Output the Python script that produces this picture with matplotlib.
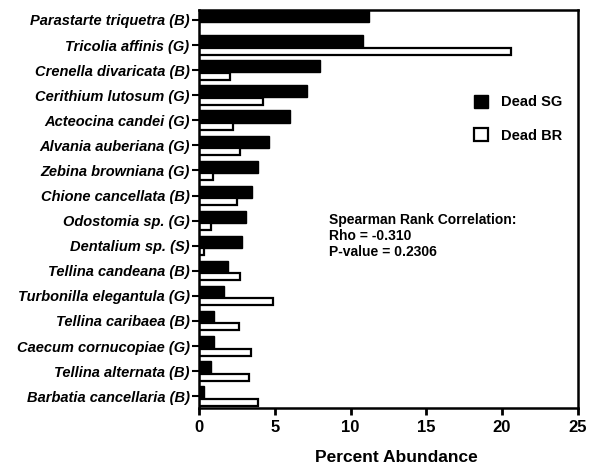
import numpy as np
from matplotlib import pyplot as plt
from matplotlib.patches import Patch

plt.rcParams.update({
    "font.family": "Liberation Sans",
    "font.weight": "bold",
})

species = [
    'Parastarte triquetra (B)', 'Tricolia affinis (G)', 'Crenella divaricata (B)',
    'Cerithium lutosum (G)', 'Acteocina candei (G)', 'Alvania auberiana (G)',
    'Zebina browniana (G)', 'Chione cancellata (B)', 'Odostomia sp. (G)',
    'Dentalium sp. (S)', 'Tellina candeana (B)', 'Turbonilla elegantula (G)',
    'Tellina caribaea (B)', 'Caecum cornucopiae (G)', 'Tellina alternata (B)',
    'Barbatia cancellaria (B)',
]
dead_sg = [11.2, 10.8, 8.0, 7.1, 6.0, 4.6, 3.9, 3.5, 3.1,
           2.8, 1.9, 1.6, 1.0, 1.0, 0.8, 0.3]
dead_br = [0.0, 20.6, 2.0, 4.2, 2.2, 2.7, 0.9, 2.5, 0.8,
           0.3, 2.7, 4.9, 2.6, 3.4, 3.3, 3.9]

fig = plt.figure(figsize=[5.94, 4.72], dpi=100)
ax = fig.add_axes([0.3355, 0.1356, 0.6371, 0.8434])

y = np.arange(len(species))
ax.barh(y - 0.15, dead_sg, height=0.48, color='black', edgecolor='black', linewidth=1.0)
ax.barh(y + 0.24, dead_br, height=0.28, color='white', edgecolor='black', linewidth=1.6)

ax.set_xlim(0, 25)
ax.set_ylim(15.47, -0.4)
ax.set_yticks(y)
ax.set_yticklabels(species, fontsize=10.5, style='italic', fontweight='bold')
ax.set_xticks([0, 5, 10, 15, 20, 25])
ax.tick_params(axis='x', labelsize=12, width=2, length=5, direction='out')
ax.tick_params(axis='y', width=1.5, length=5, direction='out', pad=2)
for s in ax.spines.values():
    s.set_linewidth(1.8)
ax.set_xlabel('Percent Abundance', fontsize=12.5, fontweight='bold')
ax.xaxis.set_label_coords(0.52, -0.105)

handles = [Patch(facecolor='black', edgecolor='black', label='Dead SG'),
           Patch(facecolor='white', edgecolor='black', linewidth=1.6, label='Dead BR')]
ax.legend(handles=handles, loc='upper left', bbox_to_anchor=(0.69, 0.82),
          frameon=False, handlelength=1.0, handleheight=1.0, handletextpad=0.9,
          labelspacing=1.3, fontsize=10.5)

ax.text(8.6, 7.68, 'Spearman Rank Correlation:\nRho = -0.310\nP-value = 0.2306',
        fontsize=10, va='top', ha='left', linespacing=1.2)

plt.savefig('out.png', dpi=100)
